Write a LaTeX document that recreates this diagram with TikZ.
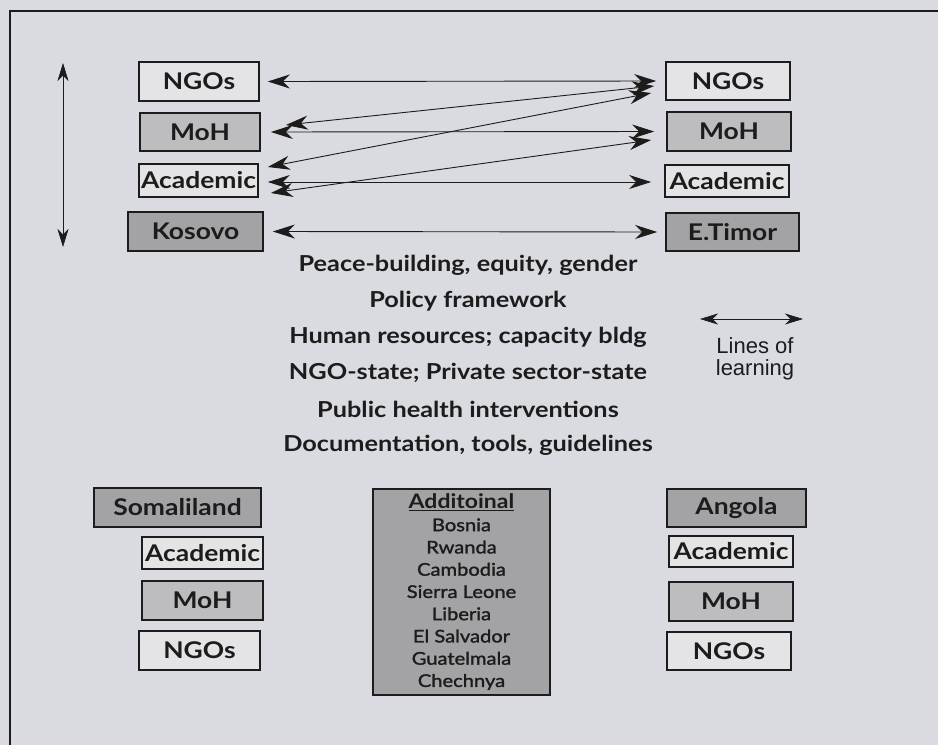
\documentclass[tikz,border=0pt]{standalone}
\usepackage{fontspec}
\setmainfont{Lato}[FakeStretch=1.15]
\newfontfamily\helv{Liberation Sans}
\newfontfamily\gillmed[FakeBold=1.6,FakeStretch=1.15]{Lato}
\usetikzlibrary{arrows.meta}
\definecolor{bg}{HTML}{DADBE0}
\definecolor{lightbox}{HTML}{E4E4E6}
\definecolor{midbox}{HTML}{BDBDC0}
\definecolor{darkbox}{HTML}{A3A3A6}
\definecolor{ink}{HTML}{1C1C1C}
\begin{document}
\begin{tikzpicture}[x=1pt,y=-1pt,
  box/.style={draw=ink, line width=1.7pt, inner sep=0pt, text=ink,
    font=\bfseries\fontsize{23}{25}\selectfont},
  wbox/.style={box, fill=lightbox},
  gbox/.style={box, fill=midbox},
  dbox/.style={box, fill=darkbox},
  link/.style={draw=ink, line width=0.9pt, {Stealth[length=22pt,width=14pt,inset=7pt]}-{Stealth[length=22pt,width=14pt,inset=7pt]}},
  thin/.style={draw=ink, line width=0.6pt, {Stealth[length=18pt,width=11pt,inset=5.5pt]}-{Stealth[length=18pt,width=11pt,inset=5.5pt]}},
  midtext/.style={text=ink, inner sep=0pt, font=\bfseries\fontsize{22}{24}\selectfont},
]
\useasboundingbox (0,0) rectangle (938,745);
\fill[bg] (0,0) rectangle (938,745);
% frame
\draw[ink, line width=2.6pt] (938,11) -- (10,11) -- (10,745);

% top left column
\node[wbox, minimum width=120pt, minimum height=39pt] (nL) at (199,81.5) {NGOs};
\node[gbox, minimum width=120pt, minimum height=38pt] (mL) at (200,132) {MoH};
\node[wbox, minimum width=119pt, minimum height=33pt] (aL) at (198.5,180.5) {Academic};
\node[dbox, minimum width=135pt, minimum height=39pt] (kos) at (195.5,231.5) {Kosovo};
% top right column
\node[wbox, minimum width=124pt, minimum height=38pt] (nR) at (728,81) {NGOs};
\node[gbox, minimum width=124pt, minimum height=39pt] (mR) at (729,131.5) {MoH};
\node[wbox, minimum width=124pt, minimum height=32pt] (aR) at (727,181) {Academic};
\node[dbox, minimum width=133pt, minimum height=38pt] (etim) at (732.5,232) {E.Timor};

% connectors
\draw[link] ([xshift=8pt]nL.east) -- ([xshift=-9pt]nR.west);
\draw[link] ([xshift=10pt]mL.east) -- ([xshift=-12pt]mR.west);
\draw[link] ([xshift=9pt,yshift=-1.5pt]aL.east) -- ([xshift=-13pt,yshift=-1pt]aR.west);
\draw[link] ([xshift=9pt]kos.east) -- ([xshift=-8pt]etim.west);
\draw[link] ([xshift=25pt,yshift=7pt]mL.east) -- ([xshift=-11pt,yshift=-5pt]nR.west);
\draw[link] ([xshift=9pt,yshift=13.5pt]aL.east) -- ([xshift=-14pt,yshift=-12pt]nR.west);
\draw[link] ([xshift=12pt,yshift=-12.5pt]aL.east) -- ([xshift=-15pt,yshift=-8.5pt]mR.west);

% vertical line of learning at left
\coordinate (vt) at (63,63);
\coordinate (vb) at (63,247);
\draw[thin] (vt) -- (vb);

% centre list
\node[midtext] (t1) at (468,265) {Peace-building, equity, gender};
\node[midtext] (t2) at (468,301) {Policy framework};
\node[midtext] (t3) at (468,337) {Human resources; capacity bldg};
\node[midtext] (t4) at (468,373) {NGO-state; Private sector-state};
\node[midtext] (t5) at (468,409) {Public health interventions};
\node[midtext] (t6) at (468,445) {Documentation, tools, guidelines};

% legend
\coordinate (la) at (700,319);
\coordinate (lb) at (803,319);
\draw[thin] (la) -- (lb);
\node[text=ink, align=center, inner sep=0pt, font=\helv\fontsize{22}{22.5}\selectfont] (leg) at (755,359) {Lines of\\learning};

% bottom left column
\node[dbox, minimum width=167pt, minimum height=39pt] (som) at (177.5,507.5) {Somaliland};
\node[wbox, minimum width=121pt, minimum height=32pt] (aBL) at (202.5,553) {Academic};
\node[gbox, minimum width=121pt, minimum height=39pt] (mBL) at (202.5,600.5) {MoH};
\node[wbox, minimum width=121pt, minimum height=39pt] (nBL) at (199.5,650.5) {NGOs};
% bottom right column
\node[dbox, minimum width=139pt, minimum height=38pt] (ang) at (736.5,508) {Angola};
\node[wbox, minimum width=124pt, minimum height=31pt] (aBR) at (731,551.5) {Academic};
\node[gbox, minimum width=124pt, minimum height=39pt] (mBR) at (731,601.5) {MoH};
\node[wbox, minimum width=124pt, minimum height=38pt] (nBR) at (729,651) {NGOs};

% additional countries
\node[dbox, minimum width=177pt, minimum height=206pt, align=center,
  font=\gillmed\fontsize{17.5}{22.25}\selectfont] (add) at (461.5,592)
  {{\normalfont\bfseries\fontsize{20}{22.25}\selectfont\underline{Additoinal}}\\Bosnia\\Rwanda\\Cambodia\\Sierra Leone\\Liberia\\El Salvador\\Guatelmala\\Chechnya};
\end{tikzpicture}
\end{document}
